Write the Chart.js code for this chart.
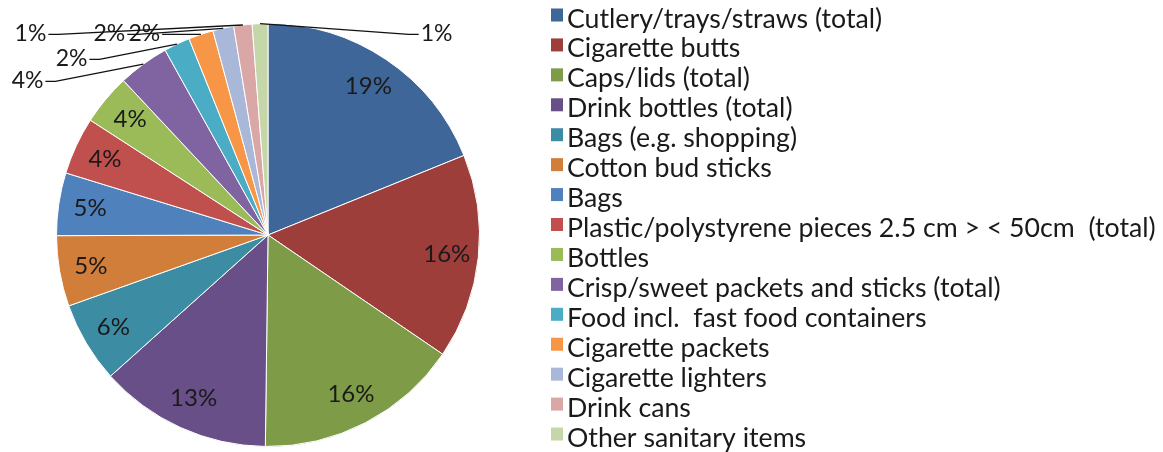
<!DOCTYPE html>
<html><head><meta charset="utf-8">
<script src="https://cdn.jsdelivr.net/npm/chart.js@4.4.0/dist/chart.umd.min.js"></script>
<style>html,body{margin:0;padding:0;background:#fff;overflow:hidden}</style>
</head><body>
<canvas id="c" width="1163" height="452"></canvas>
<script>
// ---- data ----
const categories = [
  "Cutlery/trays/straws (total)",
  "Cigarette butts",
  "Caps/lids (total)",
  "Drink bottles (total)",
  "Bags (e.g. shopping)",
  "Cotton bud sticks",
  "Bags",
  "Plastic/polystyrene pieces 2.5 cm > < 50cm  (total)",
  "Bottles",
  "Crisp/sweet packets and sticks (total)",
  "Food incl.  fast food containers",
  "Cigarette packets",
  "Cigarette lighters",
  "Drink cans",
  "Other sanitary items"
];
const shares = [18.9, 15.7, 15.7, 13.2, 6.2, 5.4, 4.8, 4.4, 3.9, 3.9, 2.0, 1.9, 1.6, 1.4, 1.2];
const sliceColors = [
  "#3F6699", "#9E3E3B", "#7E9C48", "#694F88", "#3C8DA4", "#D17E3B",
  "#4F81BD", "#C0504D", "#9BBB59", "#8064A2", "#4BACC6", "#F79646",
  "#A9B8D8", "#D8A7A6", "#C5D7A9"
];

// ---- layout (label placement for the small slices, in radius units from centre) ----
const outsideLabelPos = {
  9:  [-1.137, -0.731],
  10: [-0.929, -0.835],
  11: [-0.585, -0.953],
  12: [-0.750, -0.953],
  13: [-1.123, -0.953],
  14: [ 0.797, -0.953]
};
const FONT = "Lato, 'Open Sans', sans-serif";

const sliceLabels = {
  id: 'sliceLabels',
  afterDatasetsDraw(chart) {
    const ctx = chart.ctx;
    const meta = chart.getDatasetMeta(0);
    const ds = chart.data.datasets[0].data;
    const total = ds.reduce((a, b) => a + b, 0);
    ctx.save();
    ctx.fillStyle = '#1a1a1a';
    ctx.textAlign = 'center';
    ctx.textBaseline = 'middle';
    meta.data.forEach((arc, i) => {
      const p = arc.getProps(['x', 'y', 'startAngle', 'endAngle', 'outerRadius'], true);
      const mid = (p.startAngle + p.endAngle) / 2;
      const txt = Math.round(ds[i] / total * 100) + '%';
      const pos = outsideLabelPos[i];
      if (!pos) {
        ctx.font = "24px " + FONT;
        const rr = p.outerRadius * 0.85;
        ctx.fillText(txt, p.x + Math.cos(mid) * rr, p.y + Math.sin(mid) * rr);
      } else {
        ctx.font = "23px " + FONT;
        const tx = p.x + pos[0] * p.outerRadius;
        const ty = p.y + pos[1] * p.outerRadius;
        ctx.fillText(txt, tx, ty);
        const w = ctx.measureText(txt).width;
        const ax = p.x + Math.cos(mid) * p.outerRadius;
        const ay = p.y + Math.sin(mid) * p.outerRadius;
        const side = ax > tx ? 1 : -1;
        const ex = tx + side * (w / 2 + 2);
        ctx.beginPath();
        ctx.strokeStyle = '#111';
        ctx.lineWidth = 1.3;
        ctx.moveTo(ex, ty + 1);
        ctx.lineTo(ex + side * 10, ty + 1);
        ctx.lineTo(ax, ay);
        ctx.stroke();
      }
    });
    ctx.restore();
  }
};

const sideLegend = {
  id: 'sideLegend',
  afterDraw(chart) {
    const ctx = chart.ctx;
    const ds = chart.data.datasets[0];
    const x0 = 551, y0 = 18, pitch = 29.93;
    ctx.save();
    ctx.font = "26.7px " + FONT;
    ctx.textBaseline = 'alphabetic';
    ctx.textAlign = 'left';
    chart.data.labels.forEach((lab, i) => {
      const y = y0 + i * pitch;
      ctx.fillStyle = ds.backgroundColor[i];
      ctx.fillRect(x0, y - 9.5, 12, 13);
      ctx.fillStyle = '#1a1a1a';
      ctx.fillText(lab, x0 + 16, y + 9.5);
    });
    ctx.restore();
  }
};

new Chart(document.getElementById('c'), {
  type: 'pie',
  data: {
    labels: categories,
    datasets: [{
      data: shares,
      backgroundColor: sliceColors,
      borderColor: '#ffffff',
      borderWidth: 1
    }]
  },
  options: {
    responsive: false,
    devicePixelRatio: 1,
    animation: false,
    layout: { padding: { left: 56, top: 23, right: 683, bottom: 5 } },
    plugins: { legend: { display: false }, tooltip: { enabled: false } }
  },
  plugins: [sliceLabels, sideLegend]
});
</script>
</body></html>
